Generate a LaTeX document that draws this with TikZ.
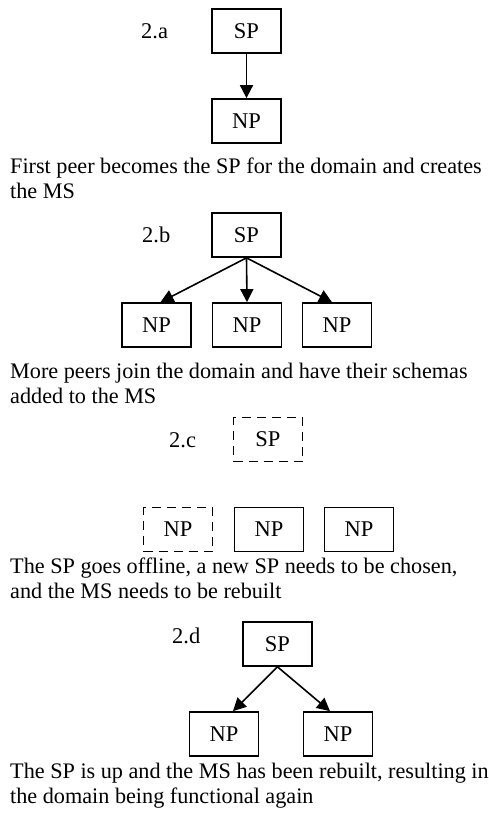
\documentclass[tikz,border=0pt]{standalone}
\usepackage{fontspec}
\setmainfont{Liberation Serif}
\usetikzlibrary{arrows.meta}
\begin{document}
\begin{tikzpicture}[x=1pt,y=-1pt,
  peer/.style={draw,line width=1.7pt,minimum width=69pt,minimum height=44pt,inner sep=0pt,font=\fontsize{22.5}{26}\selectfont},
  gone/.style={peer,dash pattern=on 9pt off 6pt},
  lbl/.style={anchor=base west,inner sep=0pt,font=\fontsize{22.5}{26}\selectfont},
  captext/.style={anchor=base west,inner sep=0pt,font=\fontsize{22.2}{26}\selectfont},
  link/.style={line width=1.6pt,-{Triangle[length=13pt,width=13pt]}}]
\useasboundingbox (0,0) rectangle (489,817);
% 2.a
\node[lbl] (la) at (141,38) {2.a};
\node[peer] (asp) at (246.5,31) {SP};
\node[peer] (anp) at (246.5,121) {NP};
\draw[link] (asp) -- (anp);
\node[captext] (ca1) at (10,173) {First peer becomes the SP for the domain and creates};
\node[captext] (ca2) at (10,198) {the MS};
% 2.b
\node[lbl] (lb) at (142,242) {2.b};
\node[peer] (bsp) at (246.5,235) {SP};
\node[peer] (bnp1) at (156.5,325) {NP};
\node[peer] (bnp2) at (247,325) {NP};
\node[peer] (bnp3) at (337,325) {NP};
\draw[link] (bsp.south) -- ([xshift=4pt]bnp1.north);
\draw[link] (bsp.south) -- (bnp2.north);
\draw[link] (bsp.south) -- ([xshift=-5pt]bnp3.north);
\node[captext] (cb1) at (10,378) {More peers join the domain and have their schemas};
\node[captext] (cb2) at (10,403) {added to the MS};
% 2.c
\node[lbl] (lc) at (169,447) {2.c};
\node[gone] (csp) at (268,439.5) {SP};
\node[gone] (cnp1) at (178,529.5) {NP};
\node[peer] (cnp2) at (269,529.5) {NP};
\node[peer] (cnp3) at (359,529.5) {NP};
\node[captext] (cc1) at (10,573) {The SP goes offline, a new SP needs to be chosen,};
\node[captext] (cc2) at (10,598) {and the MS needs to be rebuilt};
% 2.d
\node[lbl] (ld) at (172,643) {2.d};
\node[peer] (dsp) at (277.5,644) {SP};
\node[peer] (dnp1) at (224,734) {NP};
\node[peer] (dnp2) at (338,734) {NP};
\draw[link] (dsp.south) -- ([xshift=9pt]dnp1.north);
\draw[link] (dsp.south) -- ([xshift=-8pt]dnp2.north);
\node[captext] (cd1) at (10,778) {The SP is up and the MS has been rebuilt, resulting in};
\node[captext] (cd2) at (10,803) {the domain being functional again};
\end{tikzpicture}
\end{document}
